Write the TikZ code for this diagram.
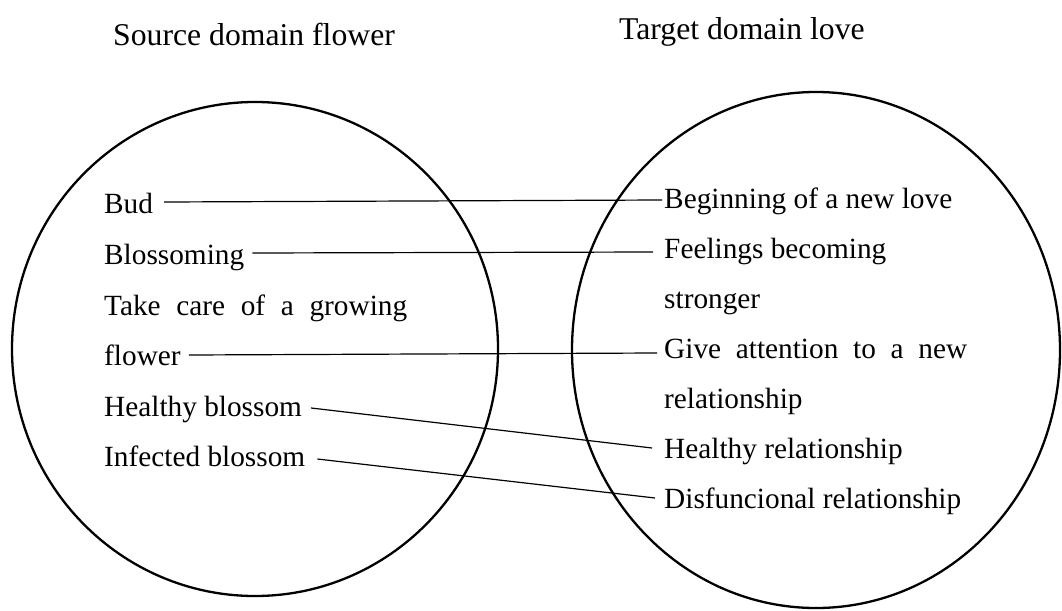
\documentclass[tikz,border=0pt]{standalone}
\usepackage{fontspec}
\setmainfont{Liberation Serif}
\begin{document}
\begin{tikzpicture}[x=1pt,y=-1pt,
  ringline/.style={draw=black,line width=2.3pt},
  termtext/.style={anchor=base west,inner sep=0pt,font=\fontsize{29.3}{35}\selectfont},
  headtext/.style={anchor=base west,inner sep=0pt,font=\fontsize{31.7}{38}\selectfont},
  mapline/.style={draw=black,line width=1.2pt}]
\useasboundingbox (0,0) rectangle (1062,610);

% the two domains
\draw[ringline] (255,349) ellipse [x radius=243, y radius=247];
\draw[ringline] (816,350) ellipse [x radius=244, y radius=258];

% headings
\node[headtext] (srcTitle) at (113,46) {Source domain flower};
\node[headtext] (tgtTitle) at (619,40) {Target domain love};

% source terms
\node[termtext] (bud)      at (104,213) {Bud};
\node[termtext] (blossom)  at (104,264) {Blossoming};
\node[termtext] (care)     at (104,315) {\makebox[303pt][s]{Take care of a growing}};
\node[termtext] (flower)   at (104,365) {flower};
\node[termtext] (healthy)  at (104,416) {Healthy blossom};
\node[termtext] (infected) at (104,466) {Infected blossom};

% target terms
\node[termtext] (begin)    at (664,208) {Beginning of a new love};
\node[termtext] (feel)     at (664,258) {Feelings becoming};
\node[termtext] (strong)   at (664,308) {stronger};
\node[termtext] (give)     at (664,358) {\makebox[303pt][s]{Give attention to a new}};
\node[termtext] (rel)      at (664,408) {relationship};
\node[termtext] (hrel)     at (664,458) {Healthy relationship};
\node[termtext] (drel)     at (664,508) {Disfuncional relationship};

% mappings
\draw[mapline] ([shift={(11pt,11pt)}]bud.base east)      -- ([shift={(-2pt,8pt)}]begin.base west);
\draw[mapline] ([shift={(8pt,11pt)}]blossom.base east)   -- ([shift={(-11pt,6pt)}]feel.base west);
\draw[mapline] ([shift={(8pt,10pt)}]flower.base east)    -- ([shift={(-7pt,5pt)}]give.base west);
\draw[mapline] ([shift={(9pt,8pt)}]healthy.base east)    -- ([shift={(-12pt,10pt)}]hrel.base west);
\draw[mapline] ([shift={(12pt,7pt)}]infected.base east)  -- ([shift={(-9pt,10pt)}]drel.base west);
\end{tikzpicture}
\end{document}
